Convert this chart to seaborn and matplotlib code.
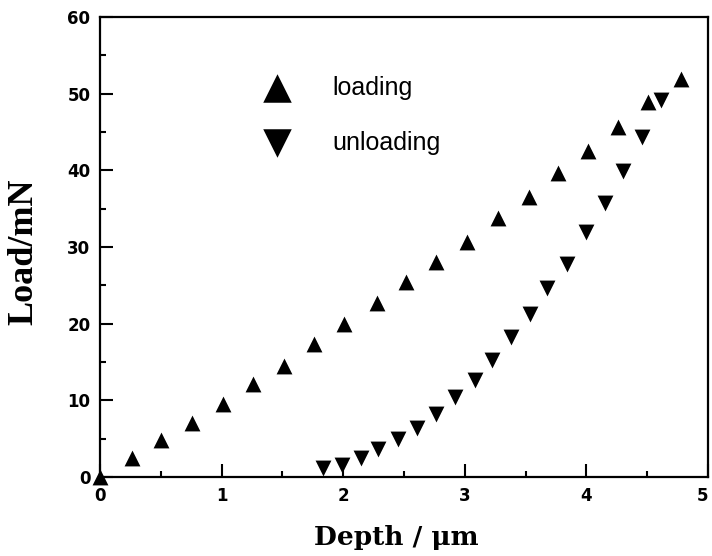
import matplotlib
matplotlib.use("Agg")
from matplotlib import pyplot as plt, ticker
import seaborn as sns
import pandas as pd

# loading / unloading curve
load_depth = [0.0, 0.26, 0.50, 0.76, 1.01, 1.26, 1.51, 1.76, 2.01, 2.28,
              2.52, 2.76, 3.02, 3.27, 3.53, 3.77, 4.01, 4.26, 4.51, 4.78]
load_force = [0.0, 2.5, 4.8, 7.1, 9.5, 12.1, 14.5, 17.4, 19.9, 22.7,
              25.4, 28.0, 30.7, 33.8, 36.5, 39.7, 42.5, 45.6, 48.9, 51.9]
unload_depth = [1.83, 1.99, 2.15, 2.29, 2.45, 2.61, 2.76, 2.92, 3.08, 3.22,
                3.38, 3.54, 3.68, 3.84, 4.00, 4.15, 4.30, 4.46, 4.61]
unload_force = [1.2, 1.6, 2.5, 3.6, 5.0, 6.4, 8.2, 10.4, 12.7, 15.3,
                18.2, 21.2, 24.6, 27.8, 31.9, 35.8, 39.9, 44.4, 49.2]

load_df = pd.DataFrame({"Depth": load_depth, "Load": load_force})
unload_df = pd.DataFrame({"Depth": unload_depth, "Load": unload_force})

sns.set_style("ticks")
plt.rcParams["font.family"] = ["DejaVu Sans"]
plt.rcParams["font.weight"] = "bold"
plt.rcParams["text.color"] = "black"
plt.rcParams["xtick.color"] = "black"
plt.rcParams["ytick.color"] = "black"
plt.rcParams["axes.labelcolor"] = "black"
plt.rcParams["axes.edgecolor"] = "black"

fig = plt.figure(figsize=(7.12, 5.56), dpi=100)
ax = fig.add_axes([100 / 712, 1 - 477 / 556, 608 / 712, 460 / 556])

sns.scatterplot(data=load_df, x="Depth", y="Load", marker="^", s=130,
                color="black", edgecolor="black", linewidth=0, label="loading",
                ax=ax, clip_on=False, zorder=3)
sns.scatterplot(data=unload_df, x="Depth", y="Load", marker="v", s=130,
                color="black", edgecolor="black", linewidth=0, label="unloading",
                ax=ax, clip_on=False, zorder=3)

ax.set_xlim(0, 5)
ax.set_ylim(0, 60)
ax.set_xticks([0, 1, 2, 3, 4, 5])
ax.set_yticks([0, 10, 20, 30, 40, 50, 60])
ax.xaxis.set_minor_locator(ticker.MultipleLocator(0.5))
ax.yaxis.set_minor_locator(ticker.MultipleLocator(5))
ax.tick_params(which="major", direction="in", length=9.5, width=1.5, pad=7,
               labelsize=12)
ax.tick_params(which="minor", direction="in", length=4, width=1.5)
# the last x label sits at the figure edge, keep it inside
ax.xaxis.get_major_ticks()[-1].label1.set_horizontalalignment("right")
for sp in ax.spines.values():
    sp.set_linewidth(1.6)
    sp.set_visible(True)

ax.set_xlabel("Depth / μm", fontsize=19, fontweight="bold",
              family="DejaVu Serif")
ax.set_ylabel("Load/mN", fontsize=26, fontweight="bold",
              family="Liberation Serif")
ax.xaxis.set_label_coords(0.487, -0.104)
ax.yaxis.set_label_coords(-0.098, 0.489)

leg = ax.legend(loc="upper left", bbox_to_anchor=(0.23, 0.90), frameon=False,
                markerscale=1.8, handletextpad=1.2,
                labelspacing=1.25, borderpad=0,
                prop={"family": ["Liberation Sans Narrow", "Liberation Sans"],
                      "size": 18, "weight": "normal"})
for t in leg.get_texts():
    t.set_color("black")

fig.savefig("out.png", dpi=100, facecolor="white")
